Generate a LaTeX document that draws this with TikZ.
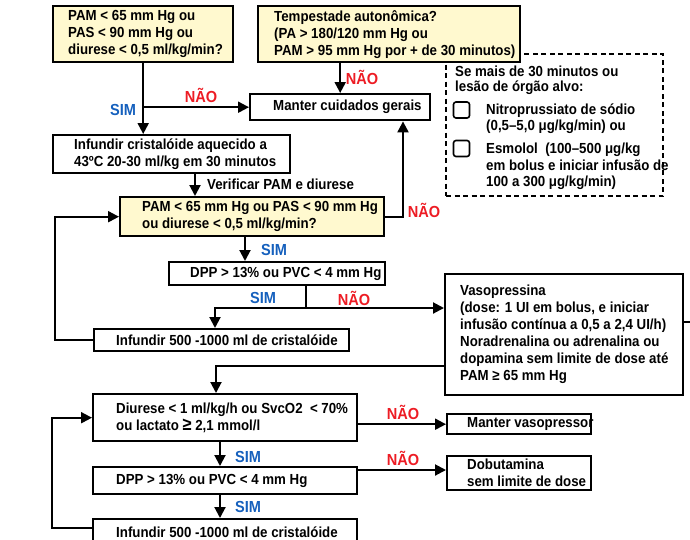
\documentclass[tikz,border=0pt]{standalone}
\usepackage{fontspec}
\setmainfont{Liberation Sans}[FakeStretch=0.91]
\usetikzlibrary{arrows.meta}

\definecolor{amarelo}{RGB}{255,249,207}
\definecolor{azulsim}{RGB}{21,96,189}
\definecolor{vermelhonao}{RGB}{237,28,36}

\tikzset{
  caixa/.style={draw=black, line width=2.4pt, inner sep=0pt},
  pergunta/.style={caixa, fill=amarelo},
  texto/.style={inner sep=0pt, align=left, font=\bfseries\fontsize{14.6}{17}\selectfont},
  sim/.style={texto, font=\bfseries\fontsize{16}{18}\selectfont, text=azulsim},
  nao/.style={texto, font=\bfseries\fontsize{16}{18}\selectfont, text=vermelhonao},
  seta/.style={line width=2pt, -{Triangle[length=11pt,width=11pt]}},
  linha/.style={line width=2pt},
}

% box from top left (x1,y1) to bottom right (x2,y2), text shifted from the west side
\def\bloco[#1](#2,#3)(#4,#5)(#6:#7)#8{%
  \node[#1, anchor=north west, minimum width={(#4)-(#2)}, minimum height={(#5)-(#3)}] (#6) at (#2,#3) {};
  \node[texto, anchor=west] (#6-txt) at ([xshift=#7]#6.west) {#8};}

\begin{document}
\begin{tikzpicture}[x=1pt,y=-1pt]
  \useasboundingbox (0,0) rectangle (690,539);
  %%%%% START %%%%%
  % dashed note, behind the second question
  \node[draw, line width=2pt, dash pattern=on 5pt off 3.5pt, anchor=north west,
        minimum width=217pt, minimum height=142pt] (alvo) at (445,53) {};
  \node[texto, anchor=west, font=\bfseries\fontsize{14.6}{15.5}\selectfont] (alvo-t) at (455,80.5)
    {Se mais de 30 minutos ou\\lesão de órgão alvo:};
  \node[draw, line width=1.6pt, rounded corners=2.5pt, minimum size=16pt] (cx1) at (461.5,110) {};
  \node[texto, anchor=west, font=\bfseries\fontsize{14.6}{16.5}\selectfont] (cx1-t) at (486,118.5)
    {Nitroprussiato de sódio\\(0,5–5,0 μg/kg/min) ou};
  \node[draw, line width=1.6pt, rounded corners=2.5pt, minimum size=16pt] (cx2) at (461.5,148.5) {};
  \node[texto, anchor=west, font=\bfseries\fontsize{14.6}{16.5}\selectfont] (cx2-t) at (486,166.5)
    {Esmolol~ (100–500 μg/kg\\em bolus e iniciar infusão de\\100 a 300 μg/kg/min)};

  % questions and actions
  \bloco[pergunta](52,5)(232,61)(q1:16pt){PAM < 65 mm Hg ou\\PAS < 90 mm Hg ou\\diurese < 0,5 ml/kg/min?}
  \bloco[pergunta](257,5)(519,61)(q2:17pt){Tempestade autonômica?\\(PA > 180/120 mm Hg ou\\PAM > 95 mm Hg por + de 30 minutos)}
  \bloco[caixa](249,93)(429,119)(gerais:24pt){Manter cuidados gerais}
  \bloco[caixa](52,134)(289,172)(inf1:22pt){Infundir cristalóide aquecido a\\43ºC 20-30 ml/kg em 30 minutos}
  \bloco[pergunta](119,196)(383,235)(q3:23pt){PAM < 65 mm Hg ou PAS < 90 mm Hg\\ou diurese < 0,5 ml/kg/min?}
  \bloco[caixa](168,261)(384,284)(dpp1:22pt){DPP > 13\% ou PVC < 4 mm Hg}
  \bloco[caixa](93,328)(348,350)(inf2:23pt){Infundir 500 -1000 ml de cristalóide}
  \bloco[caixa](444,273)(682,394)(vaso:16pt){\fontsize{14.6}{18}\selectfont Vasopressina\\(dose: 1 UI em bolus, e iniciar\\infusão contínua a 0,5 a 2,4 UI/h)\\Noradrenalina ou adrenalina ou\\dopamina sem limite de dose até\\PAM ≥ 65 mm Hg}
  \bloco[caixa](92,393)(356,440)(q4:24pt){Diurese < 1 ml/kg/h ou SvcO2~ < 70\%\\ou lactato \fontsize{18}{17}\selectfont≥\fontsize{14.6}{17}\selectfont{} 2,1 mmol/l}
  \bloco[caixa](446,413)(590,433)(mvaso:21pt){Manter vasopressor}
  \bloco[caixa](92,466)(356,493)(dpp2:24pt){DPP > 13\% ou PVC < 4 mm Hg}
  \bloco[caixa](446,455)(590,489)(dobu:21pt){Dobutamina\\sem limite de dose}
  \bloco[caixa](92,518)(356,545)(inf3:24pt){Infundir 500 -1000 ml de cristalóide}

  % columns and corners of the connectors
  \coordinate (c1) at (195,0);
  \coordinate (c2) at (245,0);
  \coordinate (c3) at (306,308);
  \coordinate (c4) at (215,0);
  \coordinate (c5) at (403,0);
  \coordinate (c6) at (220,0);
  \coordinate (c7) at (55,0);
  \coordinate (c8) at (52,0);
  \coordinate (c9) at (216,366);
  \coordinate (fim) at (690,322);

  % top part
  \draw[seta] (q1.south) -- (q1.south |- inf1.north);
  \draw[seta] (q1.south |- gerais.west) -- (gerais.west);
  \draw[seta] (gerais.north |- q2.south) -- (gerais.north);
  \draw[seta] (c1 |- inf1.south) -- (c1 |- q3.north);
  \draw[seta] (q3.east) -| (c5 |- gerais.south);
  \draw[seta] (c2 |- q3.south) -- (c2 |- dpp1.north);
  \draw[linha] (c3 |- dpp1.south) -- (c3);
  \draw[seta] (c3) -| (c4 |- inf2.north);
  \draw[seta] (c3) -- (c3 -| vaso.west);
  \draw[seta] (inf2.west) -| (c7 |- q3.west) -- (q3.west);

  % bottom part
  \draw[seta] (c9 -| vaso.west) -| (c9 |- q4.north);
  \draw[linha] (vaso.east |- fim) -- (fim);
  \draw[seta] (c6 |- q4.south) -- (c6 |- dpp2.north);
  \draw[seta] (c6 |- dpp2.south) -- (c6 |- inf3.north);
  \draw[seta] (q4.east |- mvaso.west) -- (mvaso.west);
  \draw[seta] (dpp2.east |- 0,470) -- (dobu.west |- 0,470);
  \draw[seta] (inf3.west |- 0,528) -| (c8 |- q4.west) -- (q4.west);

  % labels
  \node[sim] (sim1) at (123,110) {SIM};
  \node[nao] (nao1) at (201,95) {NÃO};
  \node[nao] (nao2) at (362,77) {NÃO};
  \node[texto, anchor=west] (verif) at (207,184) {Verificar PAM e diurese};
  \node[nao] (nao3) at (424,210) {NÃO};
  \node[sim] (sim2) at (274,250) {SIM};
  \node[sim] (sim3) at (263,298) {SIM};
  \node[nao] (nao4) at (354,298) {NÃO};
  \node[nao] (nao5) at (403,412) {NÃO};
  \node[sim] (sim4) at (248,457) {SIM};
  \node[nao] (nao6) at (403,458) {NÃO};
  \node[sim] (sim5) at (248,507) {SIM};
  %%%%% END %%%%%
\end{tikzpicture}
\end{document}
